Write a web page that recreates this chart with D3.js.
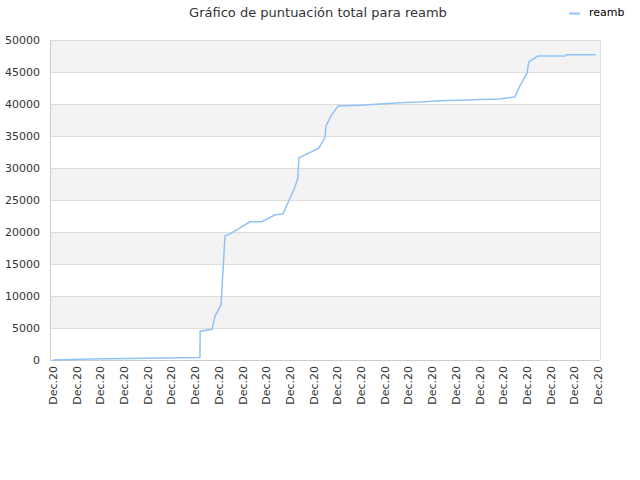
<!DOCTYPE html>
<html><head><meta charset="utf-8">
<script src="https://cdn.jsdelivr.net/npm/d3@7"></script>
<style>body{margin:0;background:#fff}text{font-family:"DejaVu Sans",sans-serif}</style>
</head><body>
<svg id="chart" width="640" height="480"></svg>
<script>
// x positions are in tick units (0 = first "Dec.20" tick, 23 = last)
var xTickLabels = d3.range(24).map(function() { return "Dec.20"; });
var yTicks = [0, 5000, 10000, 15000, 20000, 25000, 30000, 35000, 40000, 45000, 50000];
var seriesX = [0, 1.56, 4.68, 6.2, 6.21, 6.71, 6.84, 7.09, 7.17, 7.26, 7.47, 8.31, 8.82, 9.37, 9.7, 10.2, 10.33, 10.38, 11.22, 11.48, 11.52, 11.73, 12.03, 12.95, 13.8, 14.64, 15.49, 16.33, 17.17, 18.02, 18.86, 19.49, 19.7, 20.0, 20.08, 20.46, 21.6, 21.68, 22.9];
var seriesY = [0, 150, 300, 400, 4500, 4800, 6900, 8600, 13700, 19400, 19700, 21600, 21600, 22700, 22800, 26900, 28400, 31600, 33100, 34800, 36600, 38100, 39700, 39800, 40000, 40200, 40300, 40500, 40600, 40700, 40800, 41100, 42800, 44800, 46600, 47500, 47500, 47700, 47700];

var svg = d3.select("#chart");
var pLeft = 50, pRight = 600, pTop = 40, pBottom = 360;
var x = d3.scaleLinear().domain([0, 23]).range([53, 598]);
var y = d3.scaleLinear().domain([0, 50000]).range([pBottom, pTop]);

// alternating bands
for (var i = 0; i < yTicks.length - 1; i++) {
  if (i % 2 == 1) {
    svg.append("rect").attr("x", pLeft).attr("width", pRight - pLeft)
      .attr("y", y(yTicks[i + 1])).attr("height", y(yTicks[i]) - y(yTicks[i + 1]))
      .attr("fill", "#f3f3f3");
  }
}
svg.selectAll("line.grid").data(yTicks).enter().append("line")
  .attr("x1", pLeft).attr("x2", pRight)
  .attr("y1", function(d) { return y(d) + 0.5; }).attr("y2", function(d) { return y(d) + 0.5; })
  .attr("stroke", "#ddd");
svg.append("line").attr("x1", pLeft + 0.5).attr("x2", pLeft + 0.5).attr("y1", pTop).attr("y2", pBottom).attr("stroke", "#ccc");
svg.append("line").attr("x1", pRight + 0.5).attr("x2", pRight + 0.5).attr("y1", pTop).attr("y2", pBottom).attr("stroke", "#ddd");
svg.append("line").attr("x1", pLeft).attr("x2", pRight).attr("y1", pBottom + 0.5).attr("y2", pBottom + 0.5).attr("stroke", "#ccc");

svg.selectAll("text.yl").data(yTicks).enter().append("text")
  .attr("x", pLeft - 10).attr("y", function(d) { return y(d) + 4; })
  .attr("text-anchor", "end").attr("font-size", 11).attr("fill", "#333")
  .text(function(d) { return d; });

svg.selectAll("text.xl").data(xTickLabels).enter().append("text")
  .attr("transform", function(d, i) { return "translate(" + (x(i) + 4) + "," + (pBottom + 6) + ") rotate(-90)"; })
  .attr("text-anchor", "end").attr("font-size", 11).attr("fill", "#333")
  .text(function(d) { return d; });

var pts = seriesX.map(function(v, i) { return [v, seriesY[i]]; });
svg.append("path").datum(pts)
  .attr("d", d3.line().x(function(d) { return x(d[0]); }).y(function(d) { return y(d[1]); }))
  .attr("fill", "none").attr("stroke", "#90c3f5").attr("stroke-width", 1.5);

svg.append("text").attr("x", 318).attr("y", 17).attr("text-anchor", "middle")
  .attr("font-size", 13).attr("fill", "#333").text("Gráfico de puntuación total para reamb");
svg.append("line").attr("x1", 569).attr("x2", 580).attr("y1", 13.5).attr("y2", 13.5).attr("stroke", "#90c3f5").attr("stroke-width", 2);
svg.append("text").attr("x", 589).attr("y", 16).attr("font-size", 11).attr("fill", "#000").text("reamb");
</script>
</body></html>
